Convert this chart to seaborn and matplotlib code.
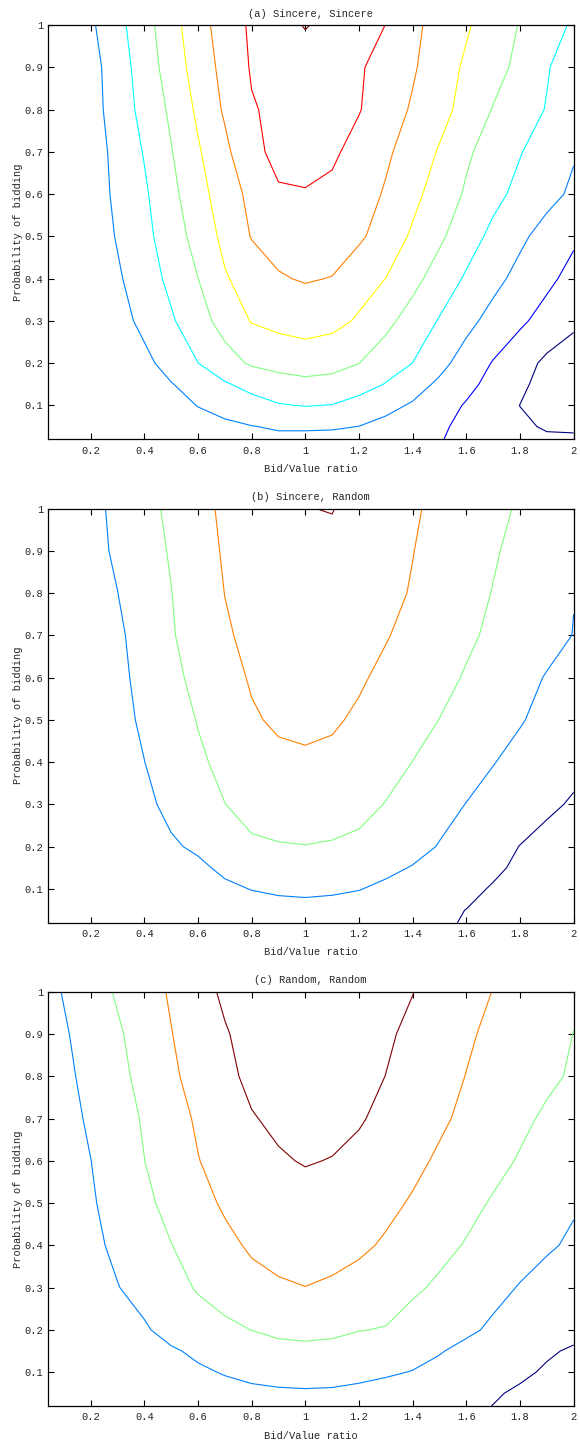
# Contour maps of payoff over bid/value ratio and bidding probability, three strategy pairs
import numpy as np
import matplotlib
matplotlib.use("Agg")
import matplotlib.pyplot as plt
from matplotlib.ticker import FuncFormatter
import seaborn as sns

bid_ratio = [0.04, 0.1, 0.2, 0.3, 0.4, 0.5, 0.6, 0.7, 0.8, 0.9, 1.0,
             1.1, 1.2, 1.3, 1.4, 1.5, 1.6, 1.7, 1.8, 1.9, 2.0]
prob_bid = [0.02, 0.05, 0.1, 0.15, 0.2, 0.3, 0.4, 0.5, 0.6, 0.7, 0.8, 0.9, 1.0]

# surface values in contour-level units, one row per prob_bid value (bottom to top)
z_sincere_sincere = [
    [2.05, 2.08, 2.12, 2.17, 2.23, 2.35, 2.47, 2.6, 2.72, 2.8, 2.8, 2.78, 2.75, 2.55, 2.3, 2.05, 1.75, 1.5, 1.3, 1.15, 1.1],
    [2.1, 2.13, 2.17, 2.22, 2.3, 2.45, 2.6, 2.8, 2.97, 3.1, 3.1, 3.08, 2.99, 2.75, 2.45, 2.12, 1.8, 1.5, 1.17, 0.9, 0.9],
    [2.15, 2.18, 2.22, 2.3, 2.4, 2.6, 3.03, 3.35, 3.65, 3.93, 4.04, 3.97, 3.6, 3.25, 2.9, 2.4, 1.92, 1.45, 0.99, 0.6, 0.45],
    [2.2, 2.23, 2.27, 2.35, 2.5, 2.95, 3.43, 3.9, 4.3, 4.6, 4.77, 4.7, 4.45, 3.95, 3.39, 2.83, 2.26, 1.7, 1.16, 0.7, 0.5],
    [2.25, 2.28, 2.32, 2.4, 2.75, 3.38, 3.99, 4.62, 5.12, 5.32, 5.41, 5.3, 5.01, 4.5, 3.99, 3.28, 2.59, 1.94, 1.39, 0.8, 0.6],
    [2.3, 2.33, 2.37, 2.63, 3.25, 3.88, 4.62, 5.36, 6.05, 6.28, 6.45, 6.3, 5.88, 5.25, 4.6, 3.93, 3.27, 2.68, 2.16, 1.65, 1.15],
    [2.35, 2.37, 2.4, 2.87, 3.53, 4.23, 4.99, 5.91, 6.43, 6.93, 7.07, 6.97, 6.42, 5.99, 5.29, 4.57, 3.88, 3.27, 2.72, 2.21, 1.7],
    [2.35, 2.38, 2.42, 3.07, 3.73, 4.5, 5.36, 6.25, 7.05, 7.3, 7.5, 7.45, 7.15, 6.57, 5.86, 5.17, 4.44, 3.76, 3.18, 2.65, 2.15],
    [2.4, 2.45, 2.51, 3.19, 3.86, 4.73, 5.64, 6.5, 7.25, 7.92, 7.95, 7.8, 7.45, 6.9, 6.26, 5.57, 4.88, 4.27, 3.74, 3.28, 2.84],
    [2.4, 2.45, 2.52, 3.28, 4.06, 4.95, 5.89, 6.77, 7.8, 8.2, 8.28, 8.15, 7.68, 7.16, 6.56, 5.92, 5.15, 4.58, 4.05, 3.55, 3.08],
    [2.4, 2.48, 2.6, 3.45, 4.3, 5.17, 6.18, 7.13, 7.93, 8.2, 8.35, 8.25, 8.05, 7.48, 6.89, 6.32, 5.67, 4.95, 4.44, 3.95, 3.45],
    [2.4, 2.5, 2.63, 3.53, 4.45, 5.45, 6.42, 7.3, 8.08, 8.4, 8.6, 8.45, 8.1, 7.65, 7.11, 6.47, 5.85, 5.34, 4.76, 4.07, 3.5],
    [2.4, 2.55, 2.84, 3.71, 4.61, 5.63, 6.6, 7.46, 8.15, 8.7, 9.05, 8.75, 8.35, 7.99, 7.23, 6.63, 6.11, 5.53, 4.95, 4.41, 3.87],
]
z_sincere_random = [
    [1.38, 1.39, 1.4, 1.42, 1.45, 1.48, 1.52, 1.55, 1.58, 1.6, 1.6, 1.58, 1.5, 1.38, 1.25, 1.1, 0.95, 0.78, 0.63, 0.53, 0.43],
    [1.4, 1.41, 1.42, 1.45, 1.5, 1.55, 1.6, 1.65, 1.7, 1.74, 1.75, 1.72, 1.62, 1.45, 1.3, 1.15, 0.99, 0.8, 0.65, 0.55, 0.45],
    [1.43, 1.44, 1.46, 1.5, 1.57, 1.66, 1.76, 1.86, 2.02, 2.12, 2.17, 2.12, 2.03, 1.82, 1.6, 1.4, 1.2, 0.93, 0.7, 0.55, 0.45],
    [1.45, 1.45, 1.48, 1.55, 1.65, 1.75, 1.85, 2.15, 2.4, 2.55, 2.62, 2.55, 2.4, 2.2, 1.95, 1.7, 1.45, 1.15, 0.85, 0.6, 0.5],
    [1.45, 1.46, 1.5, 1.6, 1.75, 1.9, 2.12, 2.45, 2.9, 2.95, 2.98, 2.93, 2.82, 2.65, 2.3, 1.95, 1.67, 1.33, 0.98, 0.7, 0.55],
    [1.45, 1.45, 1.5, 1.62, 1.82, 2.2, 2.6, 2.99, 3.22, 3.38, 3.43, 3.38, 3.25, 2.97, 2.64, 2.31, 1.98, 1.7, 1.45, 1.17, 0.9],
    [1.45, 1.46, 1.52, 1.68, 1.99, 2.43, 2.87, 3.2, 3.5, 3.82, 3.9, 3.82, 3.6, 3.3, 2.99, 2.68, 2.36, 2.03, 1.75, 1.5, 1.25],
    [1.45, 1.47, 1.55, 1.72, 2.14, 2.59, 3.04, 3.48, 3.91, 4.12, 4.15, 4.1, 3.88, 3.59, 3.29, 2.99, 2.69, 2.38, 2.06, 1.76, 1.5],
    [1.45, 1.48, 1.57, 1.78, 2.26, 2.77, 3.24, 3.69, 4.08, 4.22, 4.3, 4.25, 4.1, 3.82, 3.53, 3.24, 2.93, 2.6, 2.27, 1.95, 1.7],
    [1.45, 1.5, 1.6, 1.84, 2.38, 2.92, 3.41, 3.9, 4.2, 4.38, 4.48, 4.42, 4.27, 4.05, 3.76, 3.45, 3.14, 2.85, 2.56, 2.27, 1.98],
    [1.45, 1.52, 1.65, 1.99, 2.49, 2.98, 3.49, 4.01, 4.3, 4.55, 4.66, 4.6, 4.45, 4.22, 3.94, 3.61, 3.29, 2.97, 2.69, 2.37, 2.02],
    [1.45, 1.53, 1.7, 2.14, 2.6, 3.08, 3.62, 4.09, 4.4, 4.65, 4.83, 4.8, 4.6, 4.3, 4.02, 3.7, 3.39, 3.08, 2.78, 2.45, 2.12],
    [1.45, 1.55, 1.75, 2.2, 2.69, 3.2, 3.74, 4.15, 4.44, 4.73, 4.98, 5.03, 4.7, 4.35, 4.1, 3.81, 3.51, 3.21, 2.91, 2.58, 2.25],
]
z_random_random = [
    [1.15, 1.2, 1.27, 1.35, 1.42, 1.5, 1.57, 1.63, 1.68, 1.71, 1.72, 1.7, 1.63, 1.53, 1.4, 1.27, 1.13, 0.99, 0.85, 0.75, 0.68],
    [1.2, 1.25, 1.33, 1.42, 1.5, 1.58, 1.67, 1.75, 1.83, 1.88, 1.9, 1.88, 1.8, 1.7, 1.55, 1.38, 1.22, 1.07, 0.9, 0.8, 0.72],
    [1.25, 1.32, 1.42, 1.53, 1.65, 1.75, 1.88, 2.05, 2.2, 2.3, 2.35, 2.32, 2.22, 2.1, 1.97, 1.75, 1.55, 1.35, 1.12, 0.92, 0.8],
    [1.3, 1.38, 1.5, 1.65, 1.8, 1.9, 2.15, 2.4, 2.6, 2.72, 2.8, 2.75, 2.55, 2.48, 2.3, 2.06, 1.75, 1.5, 1.3, 1.08, 0.92],
    [1.35, 1.43, 1.58, 1.7, 1.9, 2.3, 2.58, 2.8, 3.01, 3.2, 3.23, 3.18, 3.03, 2.95, 2.62, 2.42, 2.17, 1.85, 1.6, 1.38, 1.2],
    [1.4, 1.5, 1.7, 1.97, 2.3, 2.68, 3.08, 3.4, 3.72, 3.9, 3.99, 3.88, 3.7, 3.48, 3.15, 2.85, 2.57, 2.25, 1.95, 1.7, 1.45],
    [1.45, 1.55, 1.8, 2.17, 2.58, 2.98, 3.38, 3.78, 4.12, 4.28, 4.35, 4.3, 4.15, 3.9, 3.57, 3.25, 2.94, 2.62, 2.35, 2.1, 1.88],
    [1.5, 1.6, 1.9, 2.34, 2.8, 3.27, 3.7, 4.12, 4.42, 4.6, 4.7, 4.63, 4.45, 4.2, 3.92, 3.63, 3.25, 2.92, 2.6, 2.32, 2.08],
    [1.55, 1.65, 1.99, 2.45, 2.99, 3.5, 3.97, 4.35, 4.7, 4.92, 5.05, 4.97, 4.78, 4.5, 4.2, 3.88, 3.58, 3.25, 2.93, 2.6, 2.3],
    [1.6, 1.7, 2.12, 2.6, 3.09, 3.62, 4.12, 4.55, 4.95, 5.15, 5.3, 5.25, 5.08, 4.78, 4.45, 4.14, 3.82, 3.5, 3.18, 2.87, 2.6],
    [1.65, 1.8, 2.25, 2.75, 3.27, 3.83, 4.35, 4.8, 5.18, 5.37, 5.5, 5.45, 5.3, 4.99, 4.67, 4.33, 3.98, 3.7, 3.42, 3.16, 2.9],
    [1.7, 1.9, 2.38, 2.88, 3.4, 3.97, 4.48, 4.93, 5.3, 5.5, 5.65, 5.6, 5.45, 5.13, 4.8, 4.47, 4.13, 3.8, 3.55, 3.28, 2.99],
    [1.75, 2.05, 2.57, 3.1, 3.6, 4.1, 4.66, 5.15, 5.4, 5.6, 5.8, 5.75, 5.6, 5.35, 5.02, 4.67, 4.33, 3.98, 3.7, 3.4, 3.1],
]

levels_a = [1, 2, 3, 4, 5, 6, 7, 8, 9]
levels_bc = [1, 2, 3, 4, 5]
titles = ["(a) Sincere, Sincere", "(b) Sincere, Random", "(c) Random, Random"]
x_ticks = [0.2, 0.4, 0.6, 0.8, 1.0, 1.2, 1.4, 1.6, 1.8, 2.0]
y_ticks = [0.1, 0.2, 0.3, 0.4, 0.5, 0.6, 0.7, 0.8, 0.9, 1.0]

# MATLAB-style jet steps: navy, blue, azure, cyan, green, yellow, orange, red, dark red
jet9 = ["#000080", "#0000ff", "#0080ff", "#00ffff", "#80ff80",
        "#ffff00", "#ff8000", "#ff0000", "#800000"]
jet5 = jet9[::2]

sns.set_theme(style="ticks")
plt.rcParams["font.family"] = ["Liberation Mono", "DejaVu Sans Mono"]
plt.rcParams["font.size"] = 7.5
txt_col = "#262626"

fig = plt.figure(figsize=(5.8, 14.55), dpi=100)
bottoms = [0.6981, 0.3658, 0.0337]
panels = [(z_sincere_sincere, levels_a, jet9),
          (z_sincere_random, levels_bc, jet5),
          (z_random_random, levels_bc, jet5)]
fmt = FuncFormatter(lambda v, p: "%g" % v)

for (z, lev, cols), title, b in zip(panels, titles, bottoms):
    ax = fig.add_axes([0.0822, b, 0.9069, 0.2847])
    ax.contour(bid_ratio, prob_bid, np.array(z), levels=lev, colors=cols, linewidths=0.8)
    ax.set_xlim(0.04, 2.0)
    ax.set_ylim(0.02, 1.0)
    ax.set_xticks(x_ticks)
    ax.set_yticks(y_ticks)
    ax.xaxis.set_major_formatter(fmt)
    ax.yaxis.set_major_formatter(fmt)
    ax.tick_params(direction="in", top=True, right=True, length=4, width=0.8,
                   colors="black", labelcolor=txt_col, labelsize=7.5)
    ax.tick_params(axis="x", pad=4.5)
    ax.tick_params(axis="y", pad=3)
    for s in ax.spines.values():
        s.set_color("black")
        s.set_linewidth(0.9)
    ax.set_xlabel("Bid/Value ratio", fontsize=7.5, color=txt_col, labelpad=6)
    ax.set_ylabel("Probability of bidding", fontsize=7.5, color=txt_col, labelpad=1.5)
    ax.set_title(title, fontsize=7.5, color=txt_col, pad=6)

fig.savefig("out.png", dpi=100)
